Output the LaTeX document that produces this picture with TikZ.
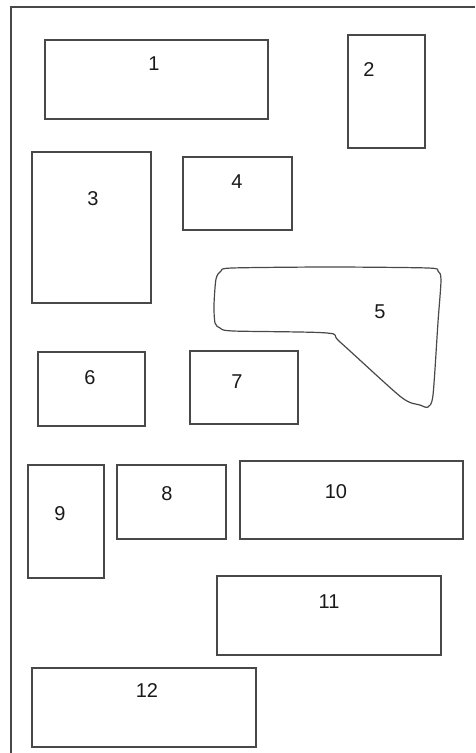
\documentclass[tikz,border=0pt]{standalone}
\usepackage{fontspec}
\setmainfont{Liberation Sans}
\usetikzlibrary{positioning}
\definecolor{lotgray}{HTML}{484848}
\tikzset{lot/.style={draw=lotgray,line width=1.2pt,rectangle,inner sep=0pt,outer sep=0pt}}
\tikzset{lotnum/.style={inner sep=0pt,font=\fontsize{20}{22}\selectfont,text=black!90}}
\begin{document}
\begin{tikzpicture}[x=1pt,y=-1pt]
\useasboundingbox(0,0)rectangle(475,753);
\draw[lotgray,line width=1.2pt](475,7)--(11,7)--(11,753);
% plots
\begin{scope}[every node/.style={lot}]
\node(p1)[minimum width=223pt,minimum height=79pt]at(156.5,79.5){};
\node(p2)[minimum width=77pt,minimum height=113pt]at(386.5,91.5){};
\node(p3)[minimum width=119pt,minimum height=151pt]at(91.5,227.5){};
\node(p4)[minimum width=109pt,minimum height=73pt]at(237.5,193.5){};
\node(p6)[minimum width=107pt,minimum height=74pt]at(91.5,389){};
\node(p7)[minimum width=108pt,minimum height=73pt]at(244,387.5){};
\node(p8)[minimum width=109pt,minimum height=74pt]at(171.5,502){};
\node(p9)[minimum width=76pt,minimum height=113pt]at(66,521.5){};
\node(p10)[minimum width=223pt,minimum height=78pt]at(351.5,500){};
\node(p11)[minimum width=224pt,minimum height=79pt]at(329,615.5){};
\node(p12)[minimum width=224pt,minimum height=79pt]at(144,707.5){};
\end{scope}
\draw[lotgray,line width=1.2pt]plot[smooth cycle,tension=.45]coordinates{(232,268)(330,267)(428,268)(438,271)(441,280)(438,322)(433,395)(428,407)(420,405)(401,397)(340,342)(327,333)(233,331)(220,328)(215,323)(214,305)(216,279)(221,271)};
% numbers
\begin{scope}[every node/.style={lotnum}]
\node(n1)at(154,64){1};\node(n2)at(369,70){2};\node(n3)at(93,199){3};\node(n4)at(237,182){4};
\node(n5)at(380,312){5};\node(n6)at(90,378){6};\node(n7)at(237,382){7};\node(n8)at(167,494){8};
\node(n9)at(60,514){9};\node(n10)at(336,492){10};\node(n11)at(329,602){11};\node(n12)at(147,691){12};
\end{scope}
\end{tikzpicture}
\end{document}
